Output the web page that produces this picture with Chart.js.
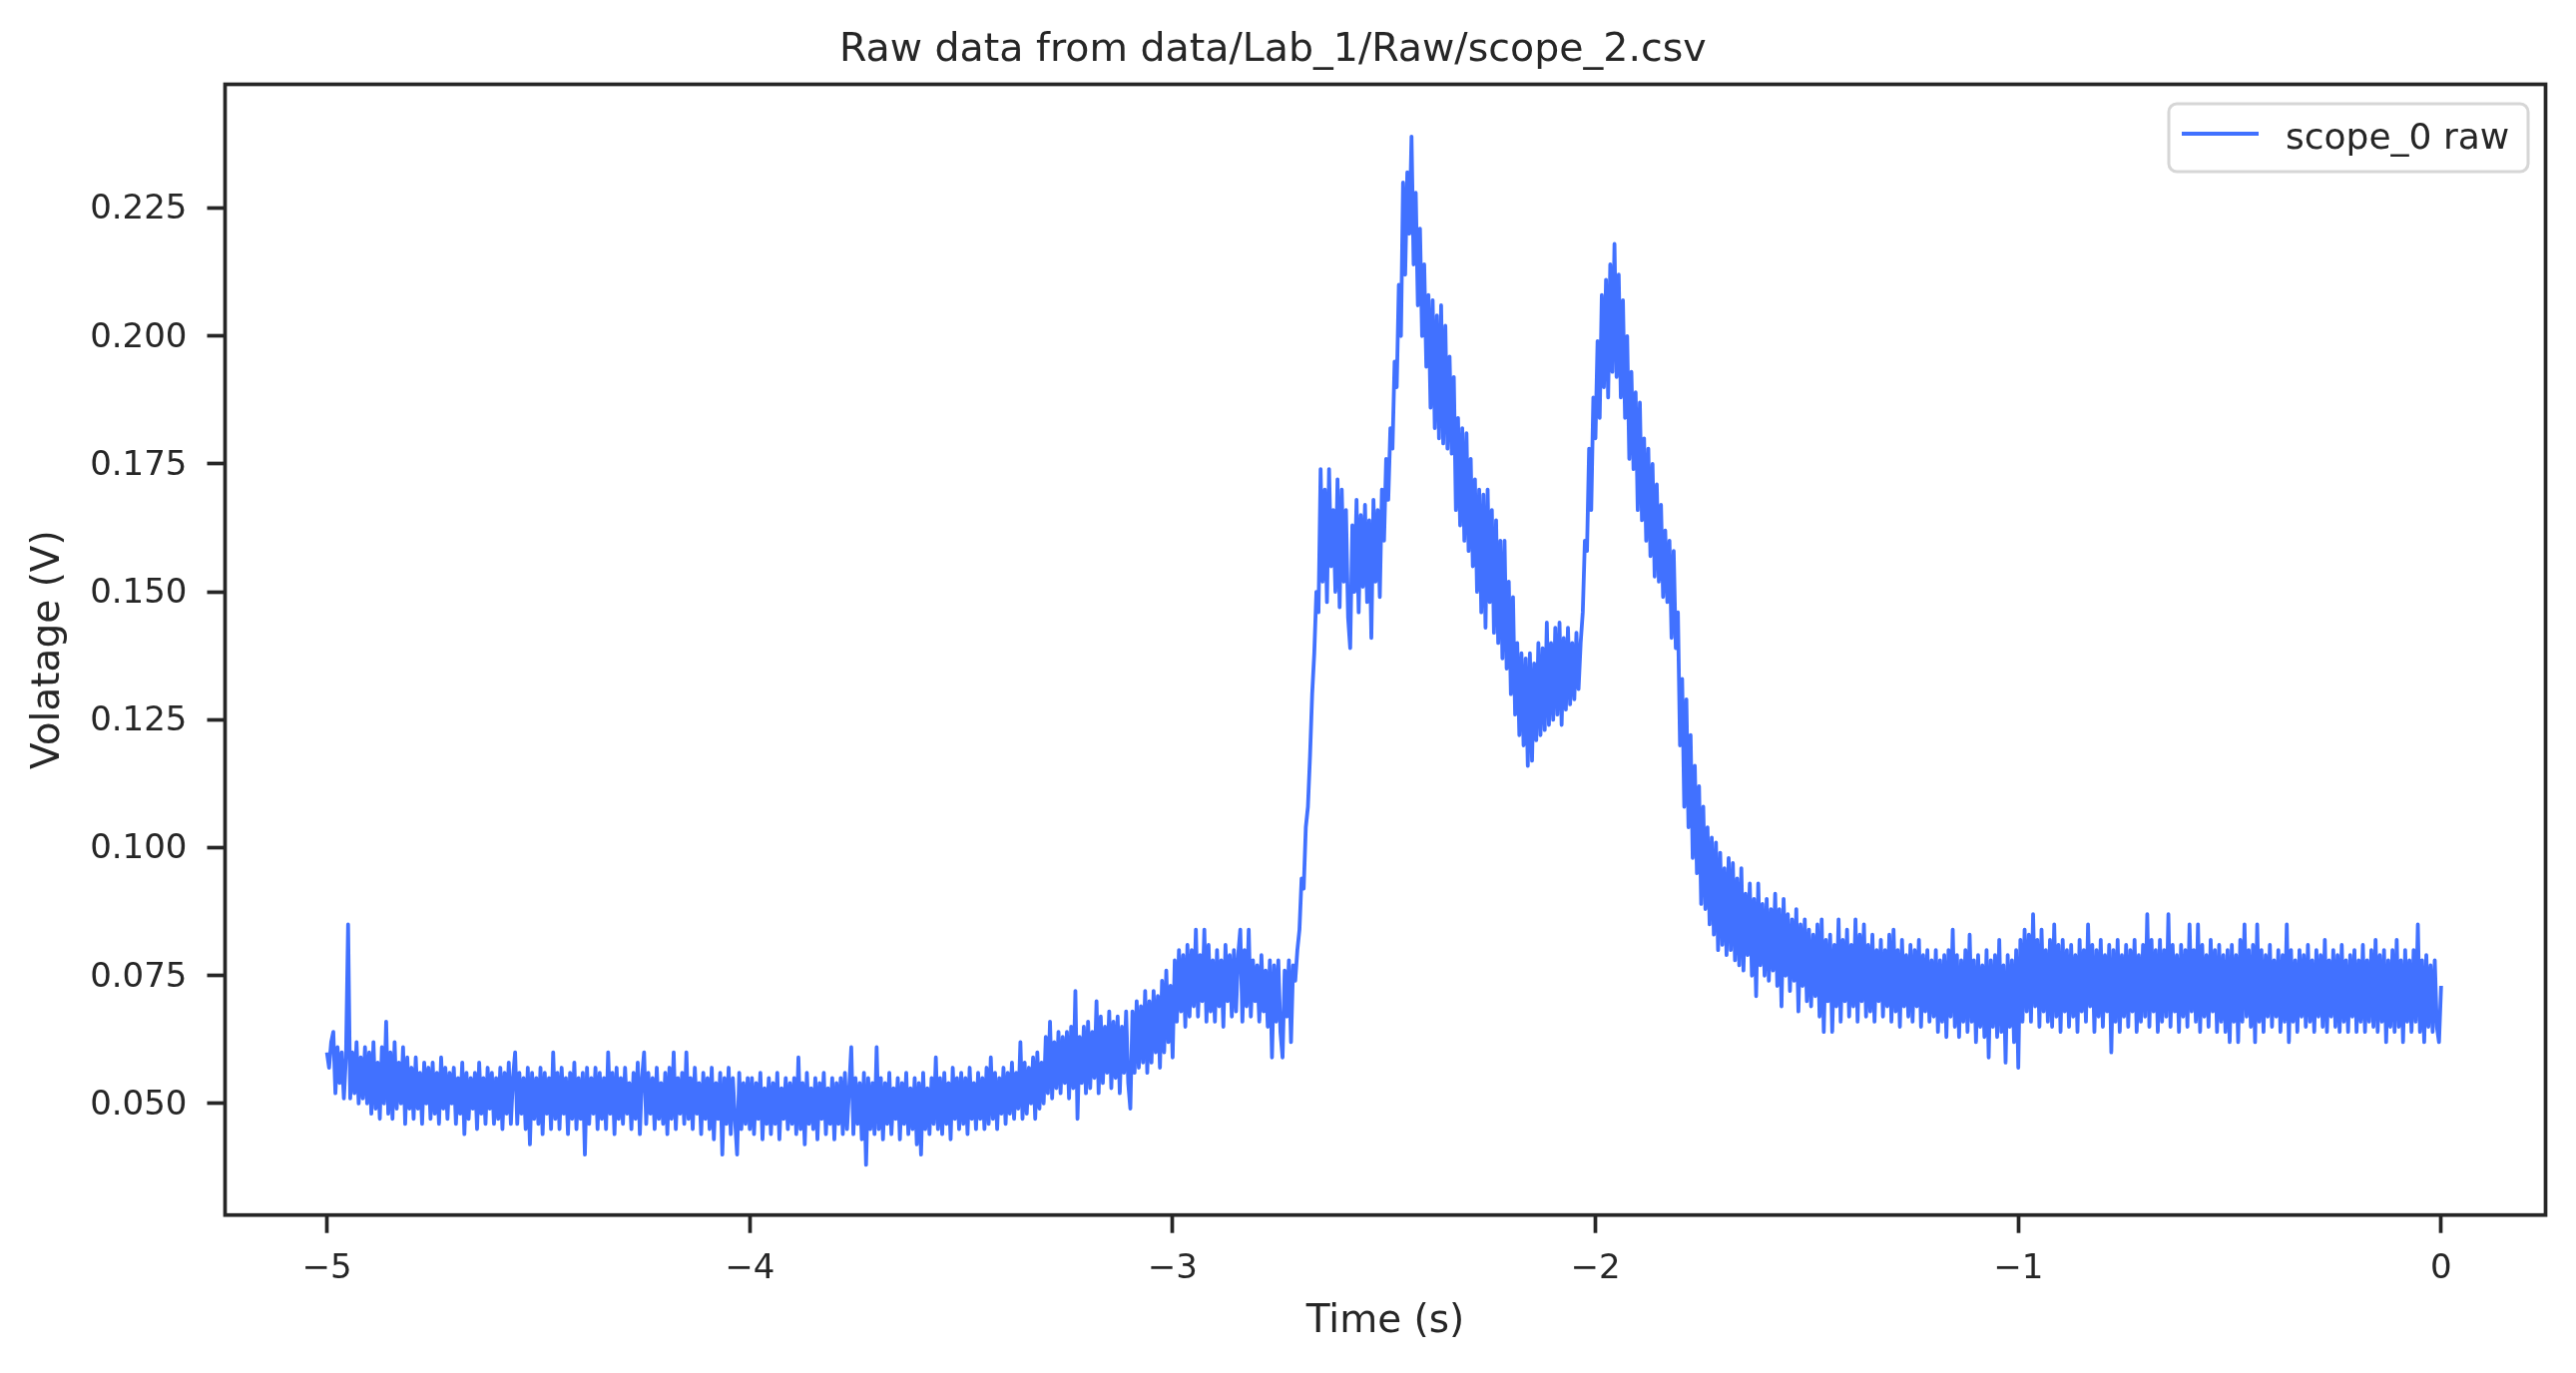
<!DOCTYPE html>
<html>
<head>
<meta charset="utf-8">
<title>Raw data from data/Lab_1/Raw/scope_2.csv</title>
<script src="https://cdn.jsdelivr.net/npm/chart.js@4.4.1/dist/chart.umd.min.js"></script>
<style>
    html, body { margin: 0; padding: 0; background: #ffffff; }
    #wrap { width: 2581px; height: 1376px; }
</style>
</head>
<body>
<div id="wrap"><canvas id="graficoScope" width="2581" height="1376"></canvas></div>
<script>
// === Scope samples (mV), one every 5 ms ===
const startTime = -5;
const sampleStep = 0.005;

// -5.000 .. -4.005 s (one row = 50 ms)
const mvSecond1 = [
    60, 57, 62, 64, 52, 61, 54, 60, 51, 59,
    85, 51, 60, 52, 62, 50, 59, 51, 61, 50,
    60, 48, 62, 49, 58, 47, 61, 50, 66, 48,
    60, 47, 62, 49, 58, 50, 61, 46, 59, 49,
    57, 47, 59, 49, 56, 46, 58, 50, 57, 47,
    58, 48, 56, 46, 59, 49, 57, 47, 56, 50,
    57, 46, 55, 48, 58, 44, 56, 47, 55, 49,
    56, 45, 58, 48, 55, 46, 57, 49, 56, 46,
    55, 47, 57, 45, 56, 48, 58, 46, 55, 60,
    46, 56, 48, 55, 45, 57, 42, 56, 47, 55,
    46, 57, 44, 56, 48, 55, 45, 60, 47, 56,
    45, 57, 48, 55, 44, 56, 47, 58, 45, 55,
    47, 56, 40, 57, 46, 55, 48, 57, 45, 56,
    47, 55, 45, 60, 48, 56, 44, 57, 47, 55,
    46, 57, 48, 54, 45, 56, 47, 58, 44, 55,
    60, 46, 56, 48, 55, 45, 57, 47, 54, 46,
    56, 44, 57, 47, 60, 45, 55, 48, 56, 46,
    60, 47, 55, 45, 57, 48, 54, 44, 56, 47,
    55, 45, 57, 43, 54, 47, 56, 40, 55, 46,
    57, 44, 55, 47, 40, 56, 45, 54, 46, 55
];
// -4.000 .. -3.005 s
const mvSecond2 = [
    45, 55, 44, 54, 47, 56, 43, 53, 46, 55,
    44, 54, 46, 56, 43, 53, 47, 55, 45, 54,
    46, 55, 44, 59, 45, 54, 42, 56, 46, 53,
    45, 55, 43, 54, 47, 56, 44, 53, 46, 55,
    43, 54, 46, 55, 44, 56, 45, 53, 61, 44,
    55, 46, 54, 43, 56, 38, 55, 45, 54, 44,
    61, 45, 55, 43, 54, 46, 56, 44, 53, 47,
    55, 43, 54, 46, 56, 44, 53, 45, 55, 42,
    54, 40, 56, 45, 53, 44, 55, 46, 59, 45,
    55, 44, 56, 46, 54, 43, 57, 47, 55, 45,
    56, 46, 55, 44, 57, 47, 54, 45, 56, 47,
    55, 45, 57, 46, 59, 47, 56, 45, 55, 48,
    57, 46, 56, 48, 58, 47, 56, 49, 62, 47,
    58, 48, 57, 50, 59, 47, 60, 49, 58, 50,
    63, 52, 66, 51, 62, 53, 64, 52, 63, 54,
    64, 51, 65, 53, 72, 47, 63, 54, 65, 52,
    66, 53, 64, 55, 70, 52, 67, 54, 65, 56,
    68, 53, 66, 55, 67, 52, 65, 56, 68, 54,
    49, 68, 56, 70, 57, 69, 58, 72, 56, 70,
    58, 72, 60, 71, 57, 74, 60, 76, 62, 73
];
// -3.000 .. -2.005 s
const mvSecond3 = [
    59, 78, 66, 80, 68, 79, 65, 81, 67, 80,
    69, 84, 67, 79, 70, 84, 66, 81, 68, 78,
    66, 80, 69, 78, 65, 81, 70, 79, 67, 80,
    68, 79, 84, 66, 80, 69, 84, 67, 78, 70,
    77, 66, 79, 68, 76, 65, 78, 59, 77, 66,
    78, 64, 59, 76, 67, 78, 62, 77, 74, 80,
    84, 94, 92, 104, 108, 118, 130, 138, 150, 146,
    174, 152, 170, 148, 174, 155, 166, 150, 172, 147,
    170, 152, 166, 145, 139, 163, 150, 168, 146, 165,
    151, 167, 148, 164, 141, 168, 152, 166, 149, 170,
    160, 176, 168, 182, 178, 195, 190, 210, 200, 230,
    212, 232, 220, 239, 214, 228, 206, 221, 200, 214,
    194, 208, 186, 207, 182, 204, 180, 206, 179, 202,
    178, 196, 177, 192, 166, 184, 163, 182, 160, 181,
    158, 176, 155, 172, 150, 170, 146, 169, 143, 170,
    148, 166, 142, 164, 140, 160, 137, 160, 135, 152,
    130, 149, 126, 140, 122, 138, 120, 137, 116, 138,
    117, 136, 121, 140, 122, 139, 123, 144, 124, 140,
    125, 143, 126, 144, 124, 141, 127, 143, 128, 140,
    129, 142, 131, 140, 146, 160, 158, 178, 166, 188
];
// -2.000 .. -1.005 s
const mvSecond4 = [
    180, 199, 184, 208, 190, 211, 188, 214, 193, 218,
    192, 212, 188, 207, 184, 200, 176, 193, 174, 189,
    166, 187, 164, 180, 160, 178, 157, 175, 153, 171,
    152, 167, 149, 162, 148, 160, 141, 158, 139, 146,
    120, 133, 108, 129, 104, 122, 98, 116, 95, 112,
    89, 108, 88, 104, 85, 102, 83, 101, 80, 99,
    81, 96, 79, 98, 80, 97, 78, 94, 77, 96,
    76, 91, 79, 93, 75, 90, 71, 93, 77, 89,
    75, 90, 74, 88, 76, 91, 73, 88, 69, 90,
    75, 87, 72, 86, 74, 88, 68, 85, 73, 86,
    70, 84, 69, 83, 71, 85, 67, 86, 64, 82,
    70, 83, 64, 81, 69, 86, 66, 82, 70, 84,
    67, 81, 69, 86, 66, 83, 70, 85, 67, 81,
    68, 83, 66, 80, 70, 82, 67, 80, 69, 83,
    66, 84, 68, 80, 65, 82, 69, 79, 67, 81,
    66, 80, 69, 82, 65, 79, 68, 80, 66, 78,
    67, 80, 64, 78, 66, 79, 63, 80, 67, 84,
    65, 79, 63, 78, 66, 80, 64, 83, 66, 78,
    62, 79, 65, 77, 63, 80, 59, 78, 65, 79,
    63, 82, 64, 77, 58, 79, 65, 78, 62, 80
];
// -1.000 .. 0.000 s
const mvSecond5 = [
    57, 82, 66, 84, 68, 83, 66, 87, 69, 82,
    65, 84, 68, 80, 66, 82, 65, 85, 67, 81,
    64, 82, 68, 80, 65, 81, 67, 79, 64, 82,
    68, 80, 66, 85, 69, 81, 64, 80, 67, 82,
    65, 79, 68, 81, 60, 80, 66, 82, 64, 79,
    67, 81, 65, 80, 68, 82, 64, 79, 66, 81,
    67, 87, 65, 82, 68, 80, 64, 82, 66, 80,
    67, 87, 65, 81, 68, 79, 64, 81, 67, 80,
    65, 85, 68, 80, 66, 85, 64, 81, 67, 79,
    65, 82, 68, 80, 64, 81, 66, 79, 64, 80,
    62, 81, 66, 79, 62, 82, 66, 85, 67, 80,
    65, 81, 62, 85, 66, 80, 64, 79, 67, 81,
    65, 78, 67, 80, 64, 79, 66, 85, 62, 80,
    66, 78, 64, 80, 67, 79, 65, 81, 66, 78,
    64, 80, 67, 79, 65, 82, 64, 78, 67, 80,
    65, 79, 64, 81, 66, 78, 64, 79, 67, 80,
    64, 78, 66, 81, 64, 78, 66, 80, 65, 82,
    64, 79, 66, 80, 62, 78, 65, 80, 64, 82,
    65, 78, 62, 80, 66, 78, 64, 80, 66, 85,
    64, 78, 62, 79, 65, 77, 64, 78, 65, 62,
    73
];

// --- axis ticks ---
const xTicks = [-5, -4, -3, -2, -1, 0];
const yTicks = [0.050, 0.075, 0.100, 0.125, 0.150, 0.175, 0.200, 0.225];

const corTexto = "#262626";
const fonte = "'DejaVu Sans', 'Liberation Sans', sans-serif";

// one point per sample, mV -> V
const amostras = [].concat(mvSecond1, mvSecond2, mvSecond3, mvSecond4, mvSecond5);
const pontos = amostras.map((mv, i) => ({ x: startTime + i * sampleStep, y: mv / 1000 }));

// === Legend drawn inside the plot (upper right) ===
const legendaInterna = {
    id: "legendaInterna",
    afterDraw(chart) {
        const { ctx, chartArea } = chart;
        const ds = chart.data.datasets[0];
        const bx = chartArea.right - 377.5, by = chartArea.top + 19.5;
        ctx.save();
        ctx.beginPath();
        ctx.roundRect(bx, by, 360, 68, 8);
        ctx.fillStyle = "rgba(255,255,255,0.8)";
        ctx.fill();
        ctx.lineWidth = 3;
        ctx.strokeStyle = "#d6d6d6";
        ctx.stroke();

        ctx.beginPath();
        ctx.moveTo(bx + 13, by + 30);
        ctx.lineTo(bx + 90, by + 30);
        ctx.strokeStyle = ds.borderColor;
        ctx.lineWidth = ds.borderWidth;
        ctx.stroke();

        ctx.fillStyle = corTexto;
        ctx.font = "36px " + fonte;
        ctx.textBaseline = "alphabetic";
        ctx.textAlign = "left";
        ctx.fillText(ds.label, bx + 117, by + 45);
        ctx.restore();
    }
};

// === Box around the plot area (all four spines) ===
const moldura = {
    id: "moldura",
    afterDatasetsDraw(chart) {
        const { ctx, chartArea: a } = chart;
        ctx.save();
        ctx.strokeStyle = corTexto;
        ctx.lineWidth = 3.7;
        ctx.strokeRect(a.left, a.top, a.right - a.left, a.bottom - a.top);
        ctx.restore();
    }
};

const chartScope = new Chart(document.getElementById("graficoScope"), {
    type: "line",
    data: {
        datasets: [{
            label: "scope_0 raw",
            data: pontos,
            borderColor: "#4171ff",
            backgroundColor: "#4171ff",
            borderWidth: 3.8,
            borderJoinStyle: "round",
            pointRadius: 0,
            tension: 0,
            fill: false
        }]
    },
    options: {
        responsive: false,
        devicePixelRatio: 1,
        animation: false,
        events: [],
        layout: { padding: { left: 0, right: 30.5, top: 0, bottom: 0 } },
        plugins: {
            legend: { display: false },
            tooltip: { enabled: false },
            title: {
                display: true,
                text: "Raw data from data/Lab_1/Raw/scope_2.csv",
                color: corTexto,
                font: { family: fonte, size: 39.5, weight: "normal" },
                padding: { top: 27.3, bottom: 9.8 }
            }
        },
        scales: {
            x: {
                type: "linear",
                min: -5.241,
                max: 0.247,
                afterFit(scale) { scale.height = 158.3; },
                afterBuildTicks(scale) { scale.ticks = xTicks.map(v => ({ value: v })); },
                border: { display: false },
                grid: { drawOnChartArea: false, drawTicks: true, tickLength: 18, tickWidth: 3.7, tickColor: corTexto },
                ticks: {
                    color: corTexto,
                    font: { family: fonte, size: 34 },
                    padding: 15.6,
                    maxRotation: 0,
                    autoSkip: false,
                    callback: v => (v < 0 ? "\u2212" + Math.abs(v) : String(v))
                },
                title: {
                    display: true,
                    text: "Time (s)",
                    color: corTexto,
                    font: { family: fonte, size: 39 },
                    padding: { top: 0, bottom: 27.6 }
                }
            },
            y: {
                type: "linear",
                min: 0.0282,
                max: 0.2492,
                afterFit(scale) { scale.width = 225.5; },
                afterBuildTicks(scale) { scale.ticks = yTicks.map(v => ({ value: v })); },
                border: { display: false },
                grid: { drawOnChartArea: false, drawTicks: true, tickLength: 18, tickWidth: 3.7, tickColor: corTexto },
                ticks: {
                    color: corTexto,
                    font: { family: fonte, size: 34 },
                    padding: 20,
                    labelOffset: 2,
                    autoSkip: false,
                    callback: v => Number(v).toFixed(3)
                },
                title: {
                    display: true,
                    text: "Volatage (V)",
                    color: corTexto,
                    font: { family: fonte, size: 39 },
                    padding: { top: 25, bottom: 0 }
                }
            }
        }
    },
    plugins: [moldura, legendaInterna]
});
</script>
</body>
</html>
